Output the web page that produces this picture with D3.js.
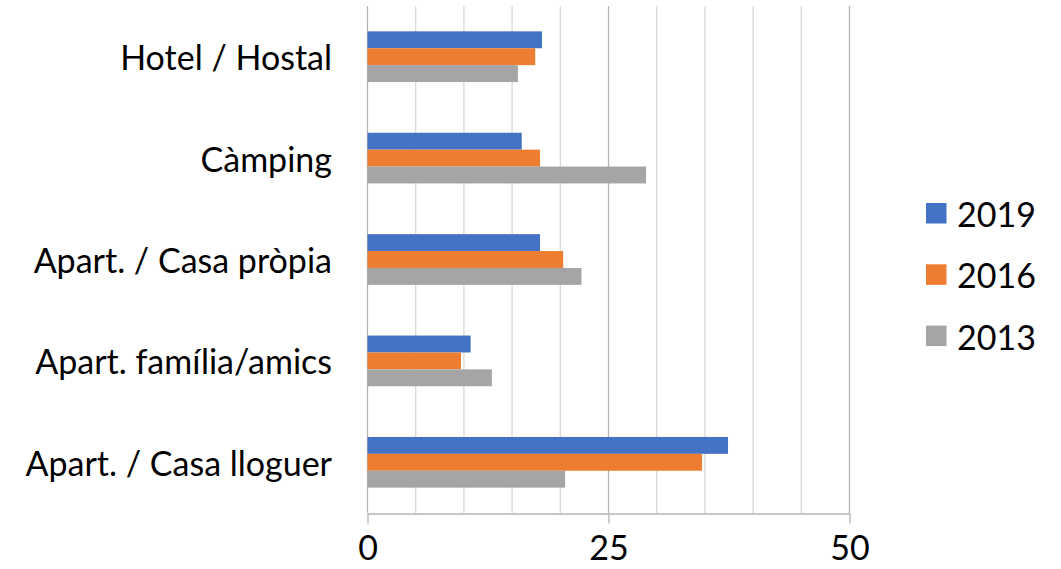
<!DOCTYPE html>
<html>
<head>
<meta charset="utf-8">
<script src="https://cdn.jsdelivr.net/npm/d3@7"></script>
<style>
  body { margin: 0; background: #fff; }
  text { font-family: Lato, "Open Sans", sans-serif; fill: #000; }
</style>
</head>
<body>
<div id="chart"></div>
<script>
// chart data
const categories = ["Hotel / Hostal", "Càmping", "Apart. / Casa pròpia", "Apart. família/amics", "Apart. / Casa lloguer"];
const years = ["2019", "2016", "2013"];
const values2019 = [18.1, 16.0, 17.9, 10.7, 37.4];
const values2016 = [17.4, 17.9, 20.3, 9.7, 34.7];
const values2013 = [15.6, 28.9, 22.2, 12.9, 20.5];
const xTicks = [0, 25, 50];
const gridTicks = [5, 10, 15, 20, 30, 35, 40, 45];
const colors = ["#4472C4", "#ED7D31", "#A5A5A5"];

const series = [values2019, values2016, values2013];

let width = 1061,
    height = 569,
    fontSize = 34;

let svg = d3.select("#chart")
  .append("svg")
    .attr("width", width)
    .attr("height", height);

let x = d3.scaleLinear()
  .domain([0, 50])
  .range([367.5, 849.5]);

let y = d3.scaleBand()
  .domain(categories)
  .range([6, 513])
  .paddingInner(0.5)
  .paddingOuter(0.25);

let ySub = d3.scaleBand()
  .domain(years)
  .range([0, y.bandwidth()]);

// minor gridlines
svg.append("g")
  .selectAll("line")
  .data(gridTicks)
  .enter()
  .append("line")
    .attr("x1", d => x(d)).attr("x2", d => x(d))
    .attr("y1", 6).attr("y2", 513)
    .attr("stroke", "#d9d9d9")
    .attr("stroke-width", 1.3);

// major gridlines
svg.append("g")
  .selectAll("line")
  .data(xTicks)
  .enter()
  .append("line")
    .attr("x1", d => x(d)).attr("x2", d => x(d))
    .attr("y1", 6).attr("y2", 513)
    .attr("stroke", "#b4b4b4")
    .attr("stroke-width", 1.3);

// bars
let groups = svg.append("g")
  .selectAll("g")
  .data(categories)
  .enter()
  .append("g")
    .attr("transform", d => "translate(0," + y(d) + ")");

groups.selectAll("rect")
  .data((d, i) => years.map((yr, j) => ({ year: yr, value: series[j][i], color: colors[j] })))
  .enter()
  .append("rect")
    .attr("x", x(0))
    .attr("y", d => ySub(d.year))
    .attr("width", d => x(d.value) - x(0))
    .attr("height", ySub.bandwidth())
    .attr("fill", d => d.color);

// x axis
let xAxis = svg.append("g")
  .attr("transform", "translate(0,513.5)")
  .call(d3.axisBottom(x).tickValues(xTicks).tickSize(10).tickPadding(12).tickSizeOuter(0));

xAxis.select(".domain").attr("stroke", "#b4b4b4").attr("stroke-width", 1.3);
xAxis.selectAll(".tick line").attr("stroke", "#b4b4b4").attr("stroke-width", 1.3);
xAxis.selectAll(".tick text")
  .attr("font-size", fontSize)
  .attr("font-family", "Lato, sans-serif")
  .attr("fill", "#000");

// category labels
svg.append("g")
  .selectAll("text")
  .data(categories)
  .enter()
  .append("text")
    .attr("x", 332)
    .attr("y", d => y(d) + y.bandwidth() / 2)
    .attr("text-anchor", "end")
    .attr("dominant-baseline", "central")
    .attr("font-size", fontSize)
    .text(d => d);

// legend
let legend = svg.append("g")
  .selectAll("g")
  .data(years)
  .enter()
  .append("g")
    .attr("transform", (d, i) => "translate(926," + (203 + i * 61.3) + ")");

legend.append("rect")
  .attr("width", 20.5)
  .attr("height", 20.5)
  .attr("fill", (d, i) => colors[i]);

legend.append("text")
  .attr("x", 31)
  .attr("y", 10.5)
  .attr("dominant-baseline", "central")
  .attr("font-size", fontSize)
  .text(d => d);
</script>
</body>
</html>
